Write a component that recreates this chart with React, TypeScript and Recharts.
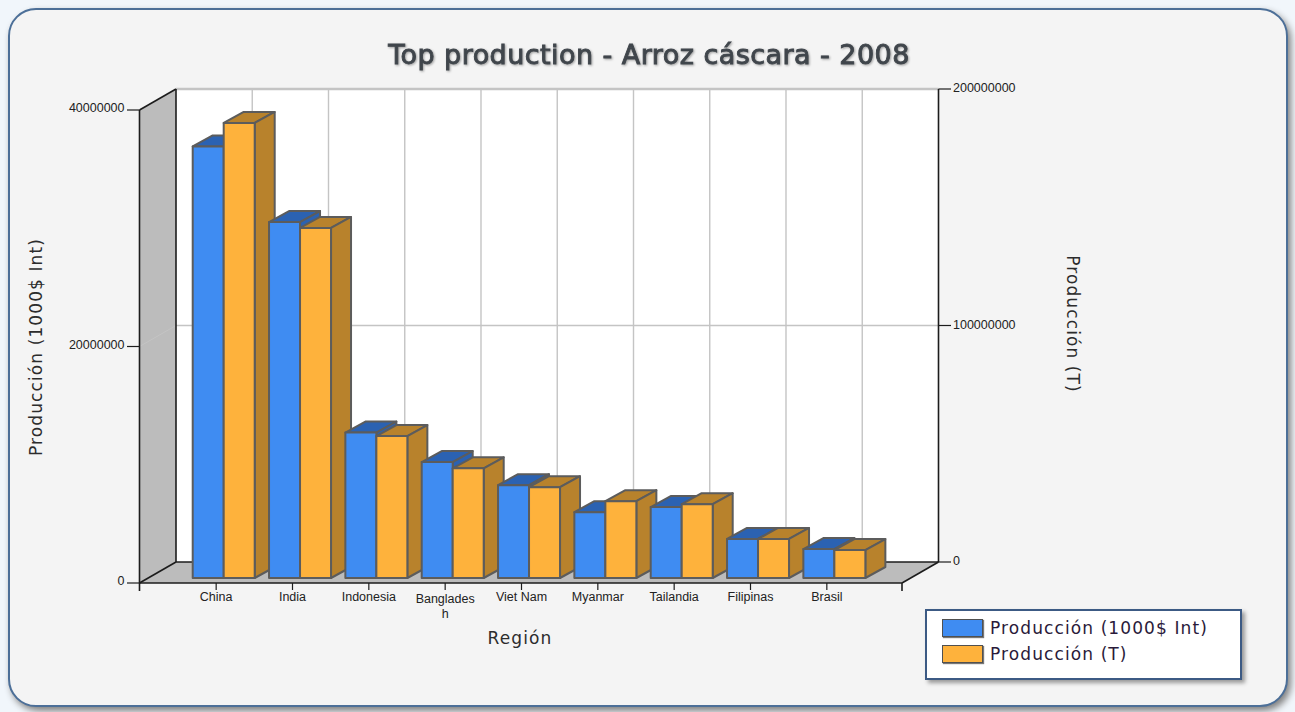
import React from "react";
import { BarChart, Bar, XAxis, YAxis, Legend } from "recharts";

const categories = ["China", "India", "Indonesia", "Bangladesh", "Viet Nam", "Myanmar", "Tailandia", "Filipinas", "Brasil"];
const valueProduction = [36500000, 30100000, 12300000, 9800000, 7850000, 5570000, 6000000, 3300000, 2450000];
const tonnesProduction = [192400000, 148000000, 60000000, 46400000, 38400000, 32500000, 31200000, 16500000, 11800000];
const leftTicks = [0, 20000000, 40000000];
const rightTicks = [0, 100000000, 200000000];
const seriesNames = ["Producción (1000$ Int)", "Producción (T)"];

const BLUE = { front: "#3f8cf2", top: "#2b62b2", side: "#2b62b2" };
const ORANGE = { front: "#feb23c", top: "#b8822c", side: "#b8822c" };
const EDGE = "#5c5c5c";
const UI_FONT = "'DejaVu Sans', sans-serif";
const TICK_FONT = "'Liberation Sans', Arial, sans-serif";

// each bar gets its own key so they paint left to right, like a real 3D chart
const rows = categories.map((name, i) => ({
  name,
  ["blue" + i]: valueProduction[i],
  ["orange" + i]: tonnesProduction[i],
}));

const Box3D = ({ x, y, width, height, colors }: any) => {
  if (!height || height <= 0) return null;
  const dx = 20;
  const dy = -11;
  const r = x + width;
  const b = y + height;
  return (
    <g stroke={EDGE} strokeWidth={2} strokeLinejoin="round">
      <polygon points={`${x},${y} ${x + dx},${y + dy} ${r + dx},${y + dy} ${r},${y}`} fill={colors.top} />
      <polygon points={`${r},${y} ${r + dx},${y + dy} ${r + dx},${b + dy} ${r},${b}`} fill={colors.side} />
      <rect x={x} y={y} width={width} height={height} fill={colors.front} />
    </g>
  );
};

// walls, floor and grid of the 3D box
const Walls = () => {
  const xl = 139.5;
  const xr = 902;
  const bx = 176;
  const bxr = 938.5;
  const yt = 110;
  const yb = 583;
  const byt = 89;
  const byb = 562;
  const step = (bxr - bx) / 10;
  const ymid = (byt + byb) / 2;
  const grid = Array.from({ length: 9 }, (_, i) => bx + step * (i + 1));
  return (
    <g>
      <rect x={bx} y={byt} width={bxr - bx} height={byb - byt} fill="#ffffff" />
      <polygon points={`${xl},${yt} ${bx},${byt} ${bx},${byb} ${xl},${yb}`} fill="#bcbcbc" />
      <polygon points={`${xl},${yb} ${bx},${byb} ${bxr},${byb} ${xr},${yb}`} fill="#bcbcbc" />
      {grid.map((gx) => (
        <line key={gx} x1={gx} y1={byt} x2={gx} y2={byb} stroke="#c4c4c4" strokeWidth={1.4} />
      ))}
      <line x1={bx} y1={ymid} x2={bxr} y2={ymid} stroke="#c4c4c4" strokeWidth={1.4} />
      <line x1={xl} y1={(yt + yb) / 2} x2={bx} y2={ymid} stroke="#c4c4c4" strokeWidth={1} />
      <line x1={bx} y1={byt} x2={bxr} y2={byt} stroke="#c4c4c4" strokeWidth={2.4} />
      <g stroke="#1c1c1c" strokeWidth={1.6} fill="none">
        <line x1={xl} y1={yt} x2={xl} y2={yb + 8} />
        <line x1={xl} y1={yt} x2={bx} y2={byt} />
        <line x1={bx} y1={byt} x2={bx} y2={byb} />
        <line x1={bx} y1={byb} x2={bxr} y2={byb} />
        <line x1={bxr} y1={byt} x2={bxr} y2={byb} />
        <line x1={xl} y1={yb} x2={bx} y2={byb} />
        <line x1={xr} y1={yb} x2={bxr} y2={byb} />
      </g>
    </g>
  );
};

// front rail with its end tick
const FrontRail = () => (
  <g stroke="#1c1c1c" strokeWidth={1.6}>
    <line x1={139.5} y1={583} x2={902} y2={583} />
    <line x1={902} y1={583} x2={902} y2={591} />
  </g>
);

const CategoryTick = ({ x, payload }: any) => {
  const label = String(payload.value);
  const tx = x - 7.7;
  const wrapped = label.length > 9;
  return (
    <g>
      <line x1={tx} y1={583} x2={tx} y2={590} stroke="#1c1c1c" strokeWidth={1.2} />
      <text x={tx} y={wrapped ? 603 : 601} textAnchor="middle" fontFamily={TICK_FONT} fontSize={12.5} fill="#222222">
        {wrapped ? label.slice(0, 9) : label}
      </text>
      {wrapped && (
        <text x={tx} y={618} textAnchor="middle" fontFamily={TICK_FONT} fontSize={12.5} fill="#222222">
          {label.slice(9)}
        </text>
      )}
    </g>
  );
};

const LeftTick = ({ y, payload }: any) => (
  <g>
    <line x1={127} y1={y + 5} x2={139.5} y2={y + 5} stroke="#1c1c1c" strokeWidth={1.2} />
    <text x={124.5} y={y + 7} textAnchor="end" fontFamily={TICK_FONT} fontSize={12.5} fill="#222222">
      {payload.value}
    </text>
  </g>
);

const RightTick = ({ y, payload }: any) => (
  <g>
    <line x1={938.5} y1={y - 16} x2={951} y2={y - 16} stroke="#1c1c1c" strokeWidth={1.2} />
    <text x={953} y={y - 13} textAnchor="start" fontFamily={TICK_FONT} fontSize={12.5} fill="#222222">
      {payload.value}
    </text>
  </g>
);

const Swatch = ({ color }: { color: string }) => (
  <span
    style={{
      display: "inline-block",
      width: 39,
      height: 16,
      background: color,
      border: "1.5px solid #505050",
      boxShadow: "1px 1px 1px #777777",
      marginRight: 7,
    }}
  />
);

const LegendBox = () => (
  <div
    style={{
      width: 313,
      height: 67,
      boxSizing: "content-box",
      background: "#ffffff",
      border: "2px solid #3c5a84",
      boxShadow: "3px 3px 4px #999999",
      fontFamily: UI_FONT,
      fontSize: 17,
      letterSpacing: 1.1,
      color: "#2a1a3a",
      paddingTop: 0,
    }}
  >
    <div style={{ display: "flex", alignItems: "center", margin: "7px 0 0 15px", height: 20 }}>
      <Swatch color={BLUE.front} />
      {seriesNames[0]}
    </div>
    <div style={{ display: "flex", alignItems: "center", margin: "6px 0 0 15px", height: 20 }}>
      <Swatch color={ORANGE.front} />
      {seriesNames[1]}
    </div>
  </div>
);

const Titles = () => (
  <g fontFamily={UI_FONT} fill="#2c2c2c">
    <text
      x={649}
      y={64}
      textAnchor="middle"
      fontSize={27}
      letterSpacing={0.45}
      fill="#40464c"
      stroke="#40464c"
      strokeWidth={0.9}
      style={{ filter: "drop-shadow(1px 1px 1px #a0a0a0)" }}
    >
      Top production - Arroz cáscara - 2008
    </text>
    <text x={0} y={0} textAnchor="middle" fontSize={17} letterSpacing={1.1} transform="translate(42,347) rotate(-90)">
      {seriesNames[0]}
    </text>
    <text x={0} y={0} textAnchor="middle" fontSize={17} letterSpacing={1.1} transform="translate(1067,324) rotate(90)">
      {seriesNames[1]}
    </text>
    <text x={520} y={644} textAnchor="middle" fontSize={17} letterSpacing={1.1}>
      Región
    </text>
  </g>
);

export default function App() {
  return (
    <div style={{ position: "absolute", left: 0, top: 0, width: 1295, height: 712, background: "#f1f6fb", overflow: "hidden" }}>
      <div
        style={{
          position: "absolute",
          left: 8,
          top: 8,
          width: 1276,
          height: 695,
          borderRadius: 28,
          border: "2px solid #4c6f98",
          background: "#f4f4f4",
          boxShadow: "3px 4px 7px #808080",
        }}
      />
      <div style={{ position: "absolute", left: 0, top: 0 }}>
        <BarChart
          width={1295}
          height={712}
          data={rows}
          barSize={31}
          barGap={0}
          barCategoryGap={0}
          margin={{ top: 105, right: 362.3, bottom: 104, left: 125.7 }}
        >
          <Walls />
          <FrontRail />
          <Titles />
          <XAxis dataKey="name" axisLine={false} tickLine={false} interval={0} height={30} tick={<CategoryTick />} />
          <YAxis
            yAxisId="left"
            orientation="left"
            width={60}
            domain={[0, 40000000]}
            ticks={leftTicks}
            axisLine={false}
            tickLine={false}
            interval={0}
            tick={<LeftTick />}
          />
          <YAxis
            yAxisId="right"
            orientation="right"
            width={60}
            domain={[0, 200000000]}
            ticks={rightTicks}
            axisLine={false}
            tickLine={false}
            interval={0}
            tick={<RightTick />}
          />
          {categories.flatMap((_, i) => [
            <Bar
              key={"blue" + i}
              dataKey={"blue" + i}
              yAxisId="left"
              stackId="blue"
              isAnimationActive={false}
              shape={(p: any) => <Box3D {...p} colors={BLUE} />}
            />,
            <Bar
              key={"orange" + i}
              dataKey={"orange" + i}
              yAxisId="right"
              stackId="orange"
              isAnimationActive={false}
              shape={(p: any) => <Box3D {...p} colors={ORANGE} />}
            />,
          ])}
          <Legend
            layout="vertical"
            align="center"
            verticalAlign="middle"
            content={<LegendBox />}
            wrapperStyle={{ left: 925, top: 609, width: 317, height: 71, bottom: "auto", right: "auto" }}
          />
        </BarChart>
      </div>
    </div>
  );
}
